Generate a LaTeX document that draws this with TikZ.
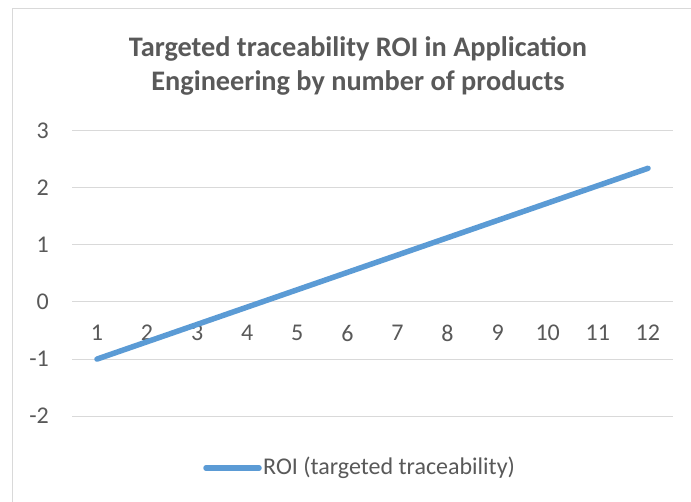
\documentclass[tikz,border=0pt]{standalone}
\usepackage{fontspec}
\setmainfont{Carlito}
\definecolor{gridc}{HTML}{D9D9D9}
\definecolor{txtc}{HTML}{595959}
\definecolor{serc}{HTML}{5B9BD5}
\tikzset{
  grid line/.style={draw=gridc, line width=1pt},
  tick lbl/.style={text=txtc, font=\fontsize{24}{28}\selectfont, inner sep=0pt},
  ser line/.style={draw=serc, line width=5.5pt, line cap=round},
  title lbl/.style={text=txtc, font=\bfseries\fontsize{28.3}{34}\selectfont, align=center, inner sep=0pt},
}
\begin{document}
\begin{tikzpicture}[x=1pt,y=-1pt]
\useasboundingbox (0,0) rectangle (691,502);
\fill[white] (0,0) rectangle (691,502);
% chart frame
\draw[gridc, line width=1pt] (12,510) -- (12,9) -- (700,9);
% title
\node[title lbl] (title) at (358,66) {Targeted traceability ROI in Application\\Engineering by number of products};
% gridlines and y labels
\foreach \v/\yy in {3/130.7, 2/187.8, 1/244.9, 0/302.0, -1/359.1, -2/416.2} {
  \coordinate (gl\v) at (72,\yy);
  \coordinate (gr\v) at (673,\yy);
  \draw[grid line] (gl\v) -- (gr\v);
  \node[tick lbl, anchor=east] (yl\v) at (49,\yy) {\v};
}
% x labels
\foreach \i in {1,...,12} {
  \node[tick lbl] (xl\i) at ({97+50.08*(\i-1)},333) {\i};
}
% series
\coordinate (p1) at (97,359.1);
\coordinate (p12) at (648,168.3);
\draw[ser line] (p1) -- (p12);
% legend
\coordinate (lg1) at (206,468);
\coordinate (lg2) at (259,468);
\draw[ser line] (lg1) -- (lg2);
\node[tick lbl, anchor=west] (lgt) at (263,468) {ROI (targeted traceability)};
\end{tikzpicture}
\end{document}
